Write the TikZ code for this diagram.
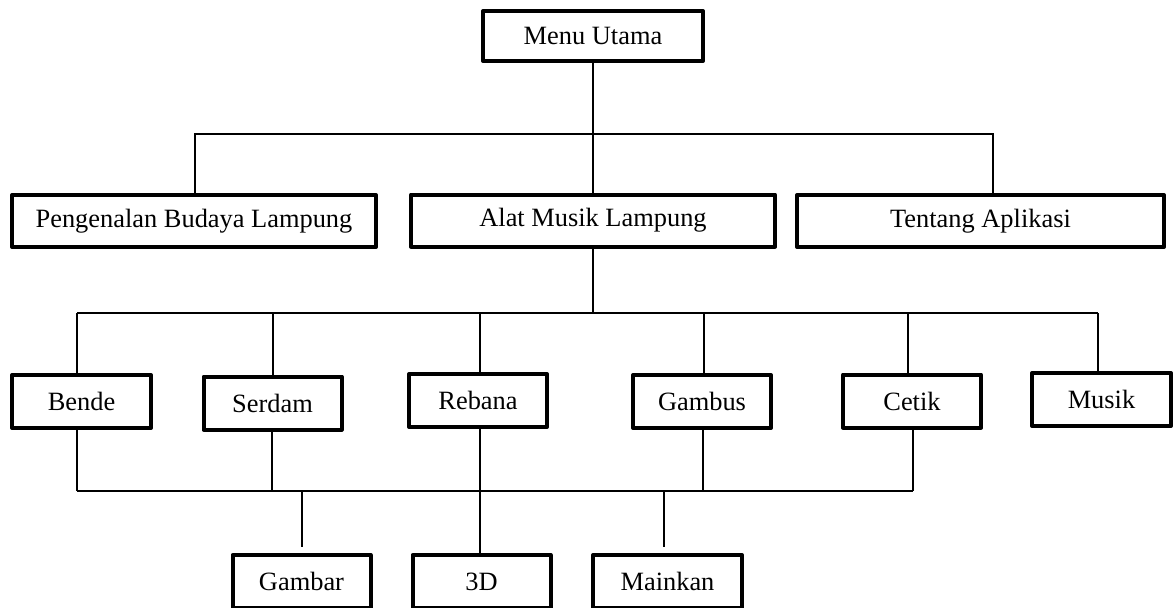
\documentclass[tikz,border=0pt]{standalone}
\usepackage{fontspec}
\setmainfont{Liberation Serif}
\usetikzlibrary{positioning}

\begin{document}
\begin{tikzpicture}[
		x=0.5pt, y=-0.5pt,
		box/.style={draw, rectangle, line width=2pt, line join=round, align=center, inner sep=0pt, minimum height=26.5pt, font=\fontsize{13.2}{16}\selectfont},
		wide/.style={box, minimum width=182pt, minimum height=26pt},
		small/.style={box, minimum width=69pt},
		link/.style={line width=0.6pt}
		]
		\useasboundingbox (0,0) rectangle (1176,607);
		
		% Define Nodes
		\node[box, minimum width=110pt, minimum height=25pt] (menu) at (593,36) {Menu Utama};
		
		\node[wide] (peng) at (194,221) {Pengenalan Budaya Lampung};
		\node[wide] (alat) at (593,220.5) {Alat Musik Lampung};
		\node[wide, minimum width=183.5pt] (tentang) at (980.5,221) {Tentang Aplikasi};
		
		\node[small, minimum width=69.5pt] (bende) at (81.5,401.5) {Bende};
		\node[small] (serdam) at (272.5,403) {Serdam};
		\node[small] (rebana) at (478,400.5) {Rebana};
		\node[small] (gambus) at (702,401.5) {Gambus};
		\node[small] (cetik) at (912,401) {Cetik};
		\node[small, minimum width=69.5pt] (musik) at (1101.5,399.5) {Musik};
		
		\node[small] (gambar) at (301.5,581.5) {Gambar};
		\node[small] (tigad) at (481.5,581.5) {3D};
		\node[small, minimum width=74.5pt] (mainkan) at (667.5,581.5) {Mainkan};
		
		% Bus points
		\coordinate (topL) at (195,134);
		\coordinate (topR) at (993,134);
		\coordinate (midL) at (77,313);
		\coordinate (midR) at (1098,313);
		\coordinate (lowL) at (77,491);
		\coordinate (lowR) at (913,491);
		
		% Menu Utama to its three parts
		\draw[link] (menu.south) -- (alat.north);
		\draw[link] (topL |- peng.north) -- (topL) -- (topR) -- (topR |- tentang.north);
		
		% Alat Musik Lampung to the instruments
		\draw[link] (alat.south) -- (alat.south |- midL);
		\draw[link] (midL) -- (midR);
		\foreach \n/\x in {bende/77, serdam/273, rebana/480, gambus/704, cetik/908, musik/1098}
			\draw[link] (\x,313) -- (\x,313 |- \n.north);
		
		% Instruments to the three views
		\foreach \n/\x in {bende/77, serdam/272, rebana/480, gambus/703, cetik/913}
			\draw[link] (\x,491 |- \n.south) -- (\x,491);
		\draw[link] (lowL) -- (lowR);
		\foreach \n/\x/\s in {gambar/302/3pt, tigad/480/0pt, mainkan/664/3pt}
			\draw[link, shorten >=\s] (\x,491) -- (\x,491 |- \n.north);
		
	\end{tikzpicture}
\end{document}
